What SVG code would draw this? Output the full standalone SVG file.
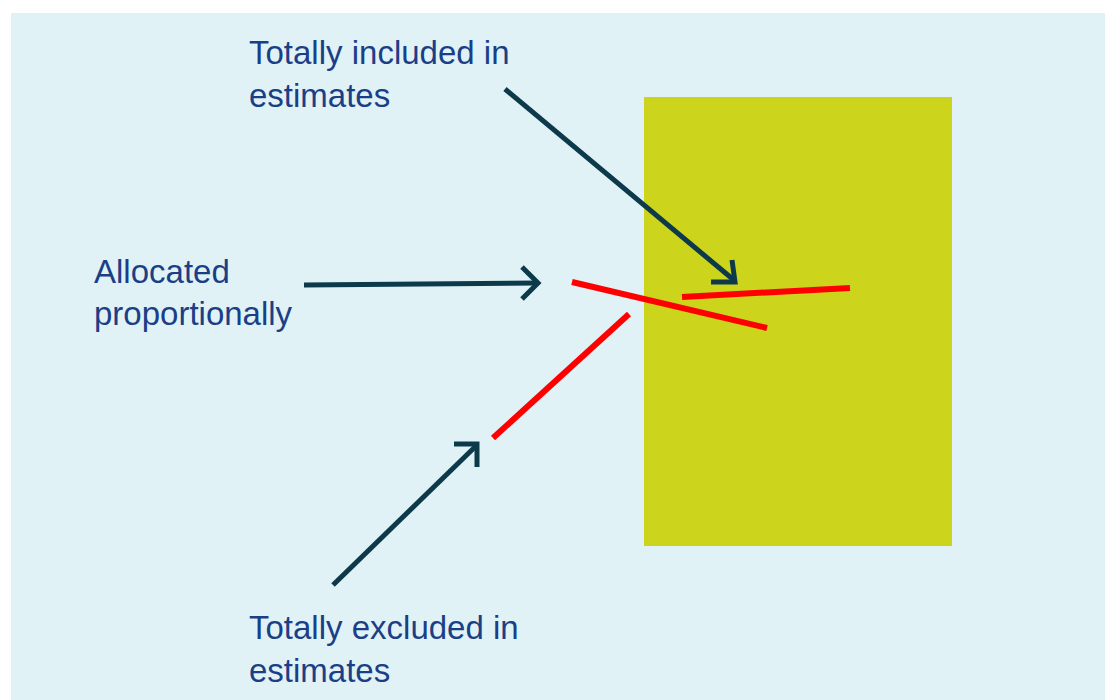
<svg xmlns="http://www.w3.org/2000/svg" width="1105" height="700" viewBox="0 0 1105 700">
<style>
.lbl{font-family:"Liberation Sans",Arial,sans-serif;font-size:33px;fill:#1B3F87}
.arr{stroke:#0C3A4A;stroke-width:5;fill:none;stroke-linecap:butt}
.red{stroke:#FF0000;stroke-width:6;fill:none}
</style>
<rect x="0" y="0" width="1105" height="700" fill="#FFFFFF"/>
<rect x="11" y="13" width="1094" height="687" fill="#E0F2F6"/>
<g id="box"><rect x="644" y="97" width="308" height="449" fill="#CDD41C"/></g>
<g id="red-lines">
<line class="red" x1="572" y1="282" x2="767" y2="328"/>
<line class="red" x1="682" y1="297" x2="850" y2="288"/>
<line class="red" x1="629" y1="314" x2="493" y2="438"/>
</g>
<g id="label-included"><text class="lbl" x="249" y="64">Totally included in</text><text class="lbl" x="249" y="107">estimates</text></g>
<g id="label-allocated"><text class="lbl" x="94" y="283">Allocated</text><text class="lbl" x="94" y="325">proportionally</text></g>
<g id="label-excluded"><text class="lbl" x="249" y="639">Totally excluded in</text><text class="lbl" x="249" y="682">estimates</text></g>
<g id="connectors">
<line class="arr" x1="505" y1="89" x2="735" y2="281"/>
<polyline class="arr" points="732,260 735,282 711,282"/>
<line class="arr" x1="304" y1="285" x2="538" y2="283"/>
<polyline class="arr" points="522,267 538,283 522,299"/>
<line class="arr" x1="333" y1="585" x2="477" y2="445"/>
<polyline class="arr" points="454,444 477,444 477,467"/>
</g>
</svg>
